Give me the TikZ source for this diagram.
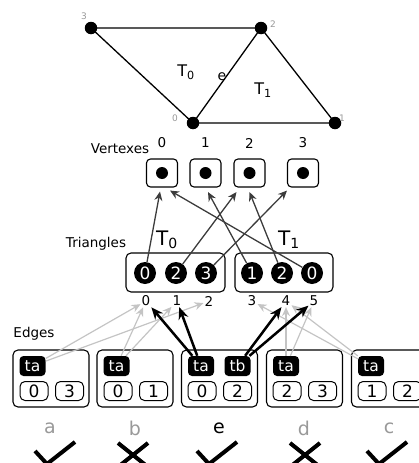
\documentclass[tikz,border=0pt]{standalone}
\usepackage{fontspec}
\setmainfont{DejaVu Sans}
\usetikzlibrary{arrows.meta}
\newcommand{\fs}[1]{\fontsize{#1}{#1}\selectfont}
\definecolor{labgray}{HTML}{999999}
\definecolor{lgray}{HTML}{C4C4C4}
\definecolor{dgray}{HTML}{3C3C3C}
\begin{document}
\begin{tikzpicture}[x=1pt,y=-1pt,
  mdot/.style={circle,fill=black,inner sep=0pt,minimum size=12.5pt},
  mline/.style={line width=1.3pt},
  mlab/.style={text=labgray,font=\fs{9},inner sep=0pt},
  vbox/.style={draw,rounded corners=4pt,minimum width=31pt,minimum height=28pt,line width=1.1pt,inner sep=0pt},
  vdot/.style={circle,fill=black,inner sep=0pt,minimum size=12pt},
  num/.style={font=\fs{13.5},inner sep=1pt},
  tribox/.style={draw,rounded corners=5pt,line width=1.1pt,minimum height=39pt,inner sep=0pt},
  tcirc/.style={circle,fill=black,text=white,inner sep=0pt,minimum size=22pt,font=\fs{17}},
  ebox/.style={draw,rounded corners=5pt,minimum width=76pt,minimum height=57pt,line width=1.1pt,inner sep=0pt},
  tag/.style={fill=black,text=white,rounded corners=4pt,minimum width=26pt,minimum height=20pt,inner sep=0pt,font=\fs{15.5}},
  sbox/.style={draw,rounded corners=5pt,minimum width=28pt,minimum height=19pt,inner sep=0pt,font=\fs{17},line width=1pt},
  varrow/.style={draw=dgray,line width=1.3pt,-{Stealth[length=9pt,width=8pt]}},
  garrow/.style={draw=lgray,line width=1.2pt,-{Stealth[length=9pt,width=8pt]}},
  barrow/.style={draw=black,line width=2.5pt,-{Stealth[length=12pt,width=10pt]}},
  elet/.style={font=\fs{19},text=labgray},
  okmark/.style={line width=4pt}
]
\useasboundingbox (0,0) rectangle (419,463);
\clip (0,0) rectangle (419,463);

% mesh
\coordinate (m3) at (91,28);
\coordinate (m2) at (261,28);
\coordinate (m0) at (193,123);
\coordinate (m1) at (335,123);
\draw[mline] (m3) -- (m2) -- (m1) -- (m0) -- cycle;
\draw[mline] (m0) -- (m2);
\node[mdot] (d3) at (m3) {};
\node[mdot] (d2) at (m2) {};
\node[mdot] (d0) at (m0) {};
\node[mdot] (d1) at (m1) {};
\node[mlab] (l3) at (84,16) {3};
\node[mlab] (l2) at (273,24) {2};
\node[mlab] (l0) at (175,118) {0};
\node[mlab] (l1) at (342,118) {1};
\node[font=\fs{16}] (mt0) at (186,72) {T\textsubscript{0}};
\node[font=\fs{14}] (me) at (222,77) {e};
\node[font=\fs{16}] (mt1) at (263,90) {T\textsubscript{1}};

% vertexes
\node[font=\fs{13.5}] (vlab) at (120,149) {Vertexes};
\foreach \i/\x in {0/162,1/205.5,2/249.5,3/303}{
  \node[vbox] (v\i) at (\x,173) {};
  \node[vdot] (vd\i) at (v\i) {};
  \node[num] (vn\i) at (\x,143) {\i};
}

% triangles
\node[font=\fs{13.5}] (tlab) at (96,244) {Triangles};
\node[font=\fs{20}] (T0) at (167,240) {T\textsubscript{0}};
\node[font=\fs{20}] (T1) at (289,240) {T\textsubscript{1}};
\node[tribox,minimum width=99pt] (tb0) at (175.5,272.5) {};
\node[tribox,minimum width=98pt] (tb1) at (284,272.5) {};
\node[tcirc] (p1) at (145,273) {0};
\node[tcirc] (p2) at (176,273) {2};
\node[tcirc] (p3) at (206,273) {3};
\node[tcirc] (p4) at (252,273) {1};
\node[tcirc] (p5) at (282,273) {2};
\node[tcirc] (p6) at (312,273) {0};
\foreach \i/\x in {0/146,1/177,2/209,3/252,4/286,5/314}{
  \node[num] (i\i) at (\x,301) {\i};
}

% vertex arrows
\draw[varrow] (p1) -- ([shift={(-2,4)}]v0.south);
\draw[varrow] (p6) -- ([shift={(8,3)}]v0.south);
\draw[varrow] (p4) -- ([shift={(2.5,4.5)}]v1.south);
\draw[varrow] (p2) -- ([shift={(-13,4.5)}]v2.south);
\draw[varrow] (p5) -- ([shift={(0,4.5)}]v2.south);
\draw[varrow] (p3) -- ([shift={(-16,3)}]v3.south);

% edges
\node[font=\fs{13.5}] (elab) at (34,334) {Edges};
\node[ebox] (ea) at (51,378.5) {};
\node[ebox] (eb) at (135,378.5) {};
\node[ebox] (ee) at (219.5,378.5) {};
\node[ebox] (ed) at (304.5,378.5) {};
\node[ebox] (ec) at (389.5,378.5) {};

\node[tag] (taa) at (32.5,366) {ta};
\node[tag] (tab) at (116.5,366) {ta};
\node[tag] (tae) at (201,366) {ta};
\node[tag] (tbe) at (237.5,366) {tb};
\node[tag] (tad) at (286,366) {ta};
\node[tag] (tac) at (371,366) {ta};

\node[sbox] (sa1) at (34,391) {0};
\node[sbox] (sa2) at (69.5,391) {3};
\node[sbox] (sb1) at (118,391) {0};
\node[sbox] (sb2) at (153.5,391) {1};
\node[sbox] (se1) at (202,391) {0};
\node[sbox] (se2) at (237.5,391) {2};
\node[sbox] (sd1) at (287,391) {2};
\node[sbox] (sd2) at (322.5,391) {3};
\node[sbox] (sc1) at (372,391) {1};
\node[sbox] (sc2) at (407.5,391) {2};

% edge arrows
\draw[garrow] (taa) -- ([shift={(-16,12)}]i0);
\draw[garrow] (taa) -- ([shift={(-8,10)}]i2);
\draw[garrow] (tab) -- ([shift={(-3,14)}]i0);
\draw[garrow] (tab) -- ([shift={(0,13)}]i1);
\draw[garrow] (tac) -- ([shift={(3,12)}]i3);
\draw[garrow] (tac) -- ([shift={(0,18)}]i4);
\draw[garrow] (tad) -- ([shift={(1,16)}]i4);
\draw[garrow] (tad) -- ([shift={(-2,17)}]i5);
\draw[barrow] (tae) -- ([shift={(1,11)}]i0);
\draw[barrow] (tae) -- ([shift={(1,12)}]i1);
\draw[barrow] (tbe) -- ([shift={(-3,14)}]i4);
\draw[barrow] (tbe) -- ([shift={(-1,11)}]i5);

% letters
\node[elet] (la) at (50,428) {a};
\node[elet] (lb) at (135,428) {b};
\node[elet,text=black] (le) at (219,428) {e};
\node[elet] (ld) at (304,428) {d};
\node[elet] (lc) at (389,428) {c};

% marks
\draw[okmark] (35,451) -- (47,464) -- (75,442);
\draw[okmark] (197,451) -- (209,464) -- (237,442);
\draw[okmark] (367,451) -- (379,464) -- (407,442);
\draw[okmark] (118,443) -- (148,467) (148,443) -- (118,467);
\draw[okmark] (290,443) -- (320,467) (320,443) -- (290,467);
\end{tikzpicture}
\end{document}
